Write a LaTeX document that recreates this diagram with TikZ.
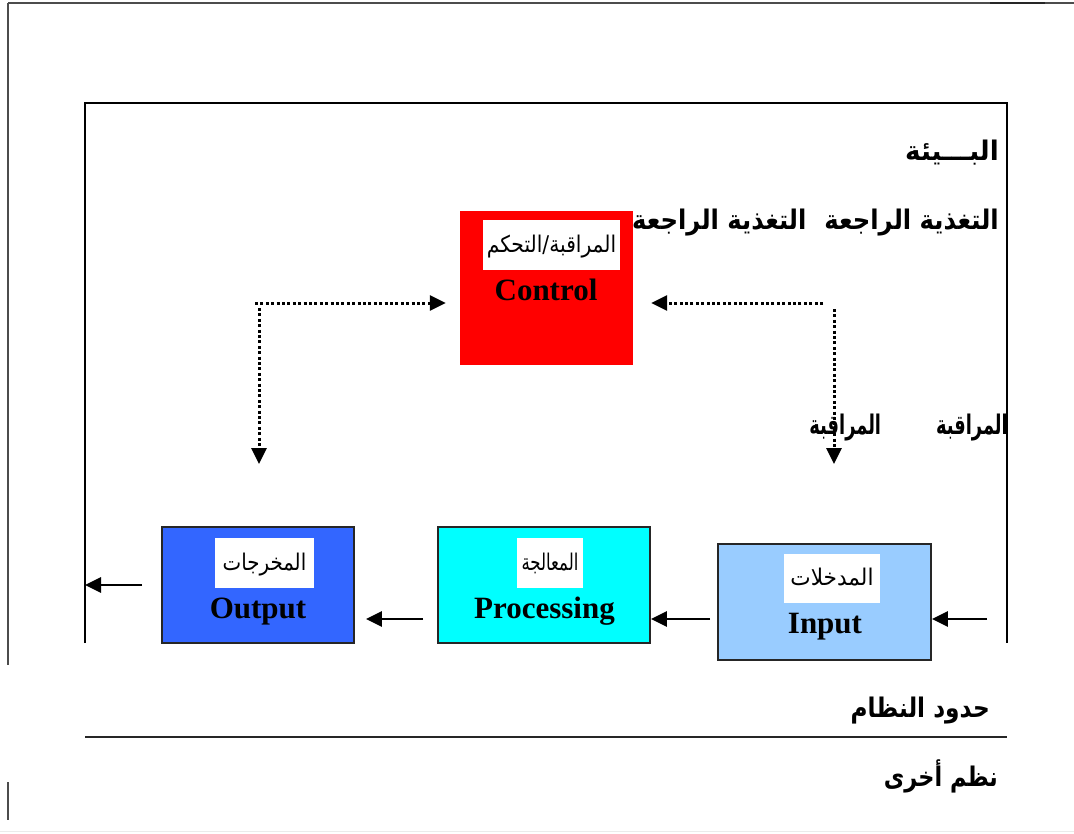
\documentclass[tikz,border=0pt]{standalone}
\usepackage{fontspec}
\usepackage{graphicx}
\setmainfont{Liberation Serif}
\newfontfamily\arabicfont[Script=Arabic]{DejaVu Sans}
\TeXXeTstate=1
\usetikzlibrary{arrows.meta}
% Arabic text squeezed horizontally by the first argument
\newcommand{\arsq}[2]{\scalebox{#1}[1]{\arabicfont #2}}

\definecolor{ctrlred}{RGB}{255,0,0}
\definecolor{outblue}{RGB}{51,102,255}
\definecolor{proccyan}{RGB}{0,255,255}
\definecolor{inblue}{RGB}{153,204,255}

\begin{document}
\begin{tikzpicture}[x=1pt,y=-1pt,
  frame/.style={line width=2pt, draw=black},
  outer/.style={line width=1.3pt, draw=black!70},
  sysbox/.style={draw=black!85, line width=1.8pt, inner sep=0pt},
  tag/.style={fill=white, inner sep=0pt, text height=24pt, text depth=10pt,
    font=\fontsize{23}{26}\selectfont},
  engl/.style={anchor=base, inner sep=0pt,
    font=\bfseries\fontsize{31}{36}\selectfont},
  flow/.style={line width=2.8pt, -{Triangle[length=16pt,width=15pt]}},
  watch/.style={line width=3pt, dash pattern=on 3pt off 2.4pt,
    -{Triangle[length=16pt,width=15pt]}},
  heading/.style={anchor=base east, inner sep=0pt,
    font=\bfseries\fontsize{27}{30}\selectfont}]

\useasboundingbox (0,0) rectangle (1074,833);

% page frame
\draw[outer] (8,3) -- (1074,3);
\draw[line width=2.4pt, black!85] (990,3) -- (1045,3);
\draw[outer] (8,3) -- (8,665);
\draw[outer] (8,782) -- (8,820);
\draw[line width=1pt, black!8] (0,831) -- (1074,831);

% environment frame and system boundary
\coordinate (envNW) at (85,103);
\coordinate (envNE) at (1007,103);
\coordinate (envSW) at (85,643);
\coordinate (envSE) at (1007,643);
\draw[frame] (envSW) -- (envNW) -- (envNE) -- (envSE);
\coordinate (bndW) at (85,737);
\coordinate (bndE) at (1007,737);
\draw[frame, draw=black!85] (bndW) -- (bndE);

% system components
\node[fill=ctrlred, minimum width=173pt, minimum height=154pt, inner sep=0pt]
  (ctrl) at (546.5,288) {};
\node[sysbox, fill=outblue, minimum width=192pt, minimum height=116pt]
  (out) at (258,585) {};
\node[sysbox, fill=proccyan, minimum width=212pt, minimum height=116pt]
  (proc) at (544,585) {};
\node[sysbox, fill=inblue, minimum width=213pt, minimum height=116pt]
  (in) at (824.5,602) {};

% Arabic captions on white tags
\node[tag, minimum width=137pt, minimum height=50pt] (ctrlTag) at (551.5,245)
  {\arsq{0.88}{\beginR المراقبة/التحكم\endR}};
\node[tag, minimum width=99pt, minimum height=50pt] (outTag) at (264.5,563)
  {\arsq{0.86}{\beginR المخرجات\endR}};
\node[tag, minimum width=66pt, minimum height=50pt] (procTag) at (550,563)
  {\arsq{0.72}{\beginR المعالجة\endR}};
\node[tag, minimum width=96pt, minimum height=49pt] (inTag) at (832,578.5)
  {\arsq{0.94}{\beginR المدخلات\endR}};

% English captions
\node[engl] (ctrlName) at (546,300) {Control};
\node[engl] (outName) at (258,618) {Output};
\node[engl] (procName) at (544.5,618) {Processing};
\node[engl] (inName) at (825,633) {Input};

% flow of material through the system
\coordinate (inSrc) at (987,619);
\draw[flow] (inSrc) -- (inSrc -| in.east);
\coordinate (procSrc) at (710,619);
\draw[flow] (procSrc) -- (procSrc -| proc.east);
\coordinate (outSrc) at (423,619);
\draw[flow, shorten >=11pt] (outSrc) -- (outSrc -| out.east);
\coordinate (exSrc) at (142,585);
\draw[flow] (exSrc) -- (exSrc -| envNW);

% monitoring and feedback loops
\coordinate (fbL) at (255,303);
\draw[watch, shorten >=14pt] (fbL) -- (fbL -| ctrl.west);
\coordinate (monL) at (259,308);
\coordinate (monLend) at (259,464);
\draw[watch] (monL) -- (monLend);
\coordinate (fbR) at (823,303);
\draw[watch, shorten >=18pt] (fbR) -- (fbR -| ctrl.east);
\coordinate (monR) at (834,309);
\coordinate (monRend) at (834,464);
\draw[watch] (monR) -- (monRend);

% labels of the surroundings
\node[heading] (envLbl) at (999,160) {\arsq{0.97}{\beginR البـــيئة\endR}};
\node[heading] (fbLbl) at (999,229)
  {\arsq{0.9}{\beginR التغذية الراجعة\hspace{20pt}التغذية الراجعة\endR}};
\node[heading] (monLbl) at (1008,434)
  {\arsq{0.66}{\beginR المراقبة\endR}\hspace{55pt}\arsq{0.66}{\beginR المراقبة\endR}};
\node[heading] (bndLbl) at (990,717) {\arsq{0.86}{\beginR حدود النظام\endR}};
\node[heading] (othLbl) at (998,786) {\arsq{0.83}{\beginR نظم أخرى\endR}};
\end{tikzpicture}
\end{document}
